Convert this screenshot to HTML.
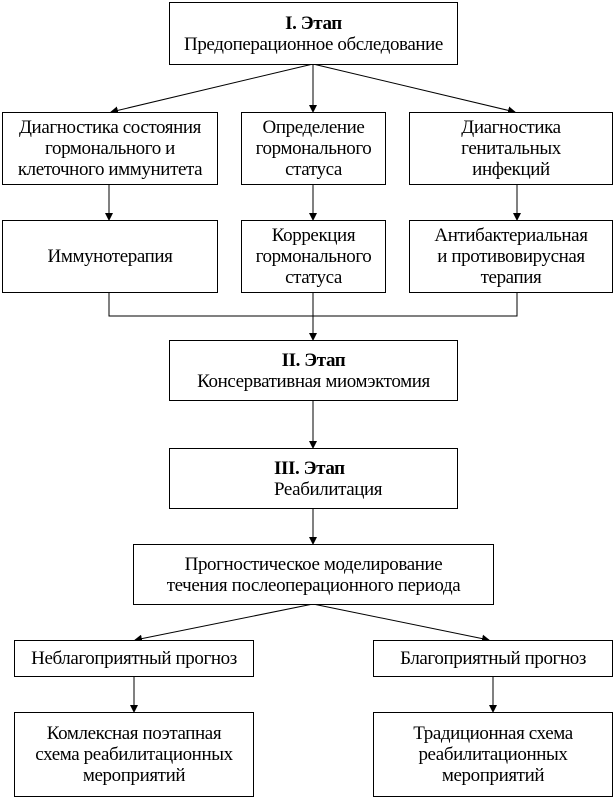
<!DOCTYPE html>
<html><head><meta charset="utf-8"><style>
body{margin:0;width:614px;height:798px;background:#fff;position:relative;font-family:"Liberation Serif",serif;font-size:19px;color:#000;letter-spacing:-0.4px}
.b{position:absolute;border:1px solid #000;box-sizing:border-box;display:flex;align-items:center;justify-content:center;text-align:center;line-height:21px;background:#fff;white-space:nowrap}
svg{position:absolute;left:0;top:0}
</style></head><body>
<svg width="614" height="798">
<defs><marker id="a" markerWidth="8" markerHeight="8" refX="7" refY="4" orient="auto" markerUnits="userSpaceOnUse"><path d="M0,0 L8,4 L0,8z"/></marker></defs>
<g stroke="#000" stroke-width="1" fill="none">
<line x1="313" y1="64" x2="111" y2="112" marker-end="url(#a)"/>
<line x1="313" y1="64" x2="313" y2="112" marker-end="url(#a)"/>
<line x1="313" y1="64" x2="515" y2="112" marker-end="url(#a)"/>
<line x1="109" y1="184" x2="109" y2="220" marker-end="url(#a)"/>
<line x1="313" y1="184" x2="313" y2="220" marker-end="url(#a)"/>
<line x1="517" y1="184" x2="517" y2="220" marker-end="url(#a)"/>
<polyline points="109,292 109,316 517,316 517,292"/>
<line x1="313" y1="292" x2="313" y2="340" marker-end="url(#a)"/>
<line x1="313" y1="400" x2="313" y2="448" marker-end="url(#a)"/>
<line x1="313" y1="508" x2="313" y2="544" marker-end="url(#a)"/>
<line x1="313" y1="604" x2="135" y2="640" marker-end="url(#a)"/>
<line x1="313" y1="604" x2="489" y2="640" marker-end="url(#a)"/>
<line x1="134" y1="676" x2="134" y2="712" marker-end="url(#a)"/>
<line x1="493" y1="676" x2="493" y2="712" marker-end="url(#a)"/>
</g></svg>
<div class="b" style="left:169px;top:2px;width:289px;height:63px"><div><b>I. Этап</b><br>Предоперационное обследование</div></div>
<div class="b" style="left:2px;top:112px;width:216px;height:73px">Диагностика состояния<br>гормонального и<br>клеточного иммунитета</div>
<div class="b" style="left:241px;top:112px;width:145px;height:73px">Определение<br>гормонального<br>статуса</div>
<div class="b" style="left:409px;top:112px;width:204px;height:73px">Диагностика<br>генитальных<br>инфекций</div>
<div class="b" style="left:2px;top:220px;width:216px;height:73px">Иммунотерапия</div>
<div class="b" style="left:241px;top:220px;width:145px;height:73px">Коррекция<br>гормонального<br>статуса</div>
<div class="b" style="left:409px;top:220px;width:204px;height:73px">Антибактериальная<br>и противовирусная<br>терапия</div>
<div class="b" style="left:169px;top:340px;width:289px;height:61px"><div><b>II. Этап</b><br>Консервативная миомэктомия</div></div>
<div class="b" style="left:169px;top:448px;width:289px;height:61px;justify-content:flex-start;padding-left:104px;text-align:left"><div><b>III. Этап</b><br>Реабилитация</div></div>
<div class="b" style="left:133px;top:544px;width:361px;height:61px">Прогностическое моделирование<br>течения послеоперационного периода</div>
<div class="b" style="left:14px;top:640px;width:240px;height:37px">Неблагоприятный прогноз</div>
<div class="b" style="left:373px;top:640px;width:240px;height:37px">Благоприятный прогноз</div>
<div class="b" style="left:14px;top:712px;width:240px;height:85px">Комлексная поэтапная<br>схема реабилитационных<br>мероприятий</div>
<div class="b" style="left:373px;top:712px;width:240px;height:85px">Традиционная схема<br>реабилитационных<br>мероприятий</div>
</body></html>
